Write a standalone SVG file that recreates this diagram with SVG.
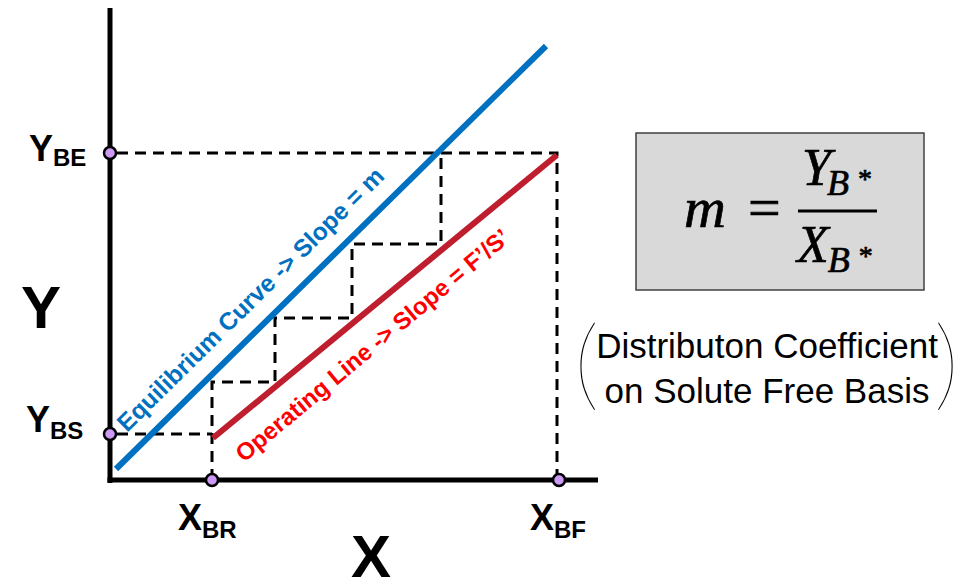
<svg xmlns="http://www.w3.org/2000/svg" width="962" height="582" viewBox="0 0 962 582">
<style>
.lbl{font-family:"Liberation Sans",Arial,sans-serif;font-weight:bold;fill:#000}
.dash{fill:none;stroke:#000;stroke-width:3;stroke-dasharray:11 7}
.pt{fill:#cc99f5;stroke:#000;stroke-width:2.5}
.math{font-family:"Liberation Serif","Times New Roman",serif;font-style:italic;fill:#000;stroke:#000;stroke-width:0.7}
.mathu{font-family:"Liberation Serif","Times New Roman",serif;font-style:normal;fill:#000;stroke:#000;stroke-width:0.7}
.note{font-family:"Liberation Sans",Arial,sans-serif;font-size:35px;fill:#000}
.paren{font-family:"Lato","Liberation Sans",sans-serif;font-weight:200;font-size:100px;fill:#000}
</style>
<rect width="962" height="582" fill="#fff"/>
<g id="connectors">
<path class="dash" d="M117 153 H557 V480"/>
<path class="dash" d="M117 434 H212"/>
<path class="dash" d="M212 480 V382 H275 V318 H352 V244 H441 V153"/>
</g>
<g id="axes">
<line x1="110" y1="8" x2="110" y2="483" stroke="#000" stroke-width="5"/>
<line x1="107.5" y1="480" x2="598" y2="480" stroke="#000" stroke-width="5"/>
</g>
<g id="equilibrium-curve">
<line x1="116" y1="469" x2="546" y2="46" stroke="#0070c0" stroke-width="6"/>
<text class="lbl" font-size="24.5" style="fill:#0070c0" transform="translate(127,433) rotate(-44.6)">Equilibrium Curve -&gt; Slope = m</text>
</g>
<g id="operating-line">
<line x1="213" y1="438" x2="557" y2="155" stroke="#be1e2d" stroke-width="6"/>
<text class="lbl" font-size="24" style="fill:#ff0000" transform="translate(244,463) rotate(-39.8)">Operating Line -&gt; Slope = F’/S’</text>
</g>
<g id="points">
<circle class="pt" cx="110" cy="153" r="6"/>
<circle class="pt" cx="110" cy="434" r="6"/>
<circle class="pt" cx="212" cy="480" r="6"/>
<circle class="pt" cx="559" cy="480" r="6"/>
</g>
<g id="label-YBE"><text class="lbl" x="29" y="161" font-size="36">Y<tspan font-size="24" dy="5">BE</tspan></text></g>
<g id="label-YBS"><text class="lbl" x="26" y="432" font-size="36">Y<tspan font-size="24" dy="7">BS</tspan></text></g>
<g id="label-XBR"><text class="lbl" x="178" y="530" font-size="36">X<tspan font-size="24" dy="8">BR</tspan></text></g>
<g id="label-XBF"><text class="lbl" x="530" y="530" font-size="36">X<tspan font-size="24" dy="8">BF</tspan></text></g>
<g id="axis-Y"><text class="lbl" x="21" y="328" font-size="60">Y</text></g>
<g id="axis-X"><text class="lbl" x="351" y="577" font-size="60">X</text></g>
<g id="formula">
<rect x="636" y="133" width="288" height="157" fill="#d9d9d9" stroke="#404040" stroke-width="1.5"/>
<text class="math" x="684" y="227" font-size="58">m</text>
<text class="mathu" x="748" y="227" font-size="58">=</text>
<line x1="798" y1="211" x2="877" y2="211" stroke="#000" stroke-width="2.8"/>
<text class="math" x="802" y="185" font-size="52">Y<tspan font-size="36" dx="-4" dy="10">B</tspan><tspan class="mathu" font-size="28" dx="9" dy="-7">*</tspan></text>
<text class="math" x="797" y="262" font-size="52">X<tspan font-size="36" dx="-1" dy="10">B</tspan><tspan class="mathu" font-size="28" dx="9" dy="-7">*</tspan></text>
</g>
<g id="note">
<text class="paren" x="574" y="398">(</text>
<text class="note" x="767" y="358" text-anchor="middle">Distributon Coefficient</text>
<text class="note" x="767" y="403" text-anchor="middle">on Solute Free Basis</text>
<text class="paren" x="934" y="398">)</text>
</g>
</svg>
